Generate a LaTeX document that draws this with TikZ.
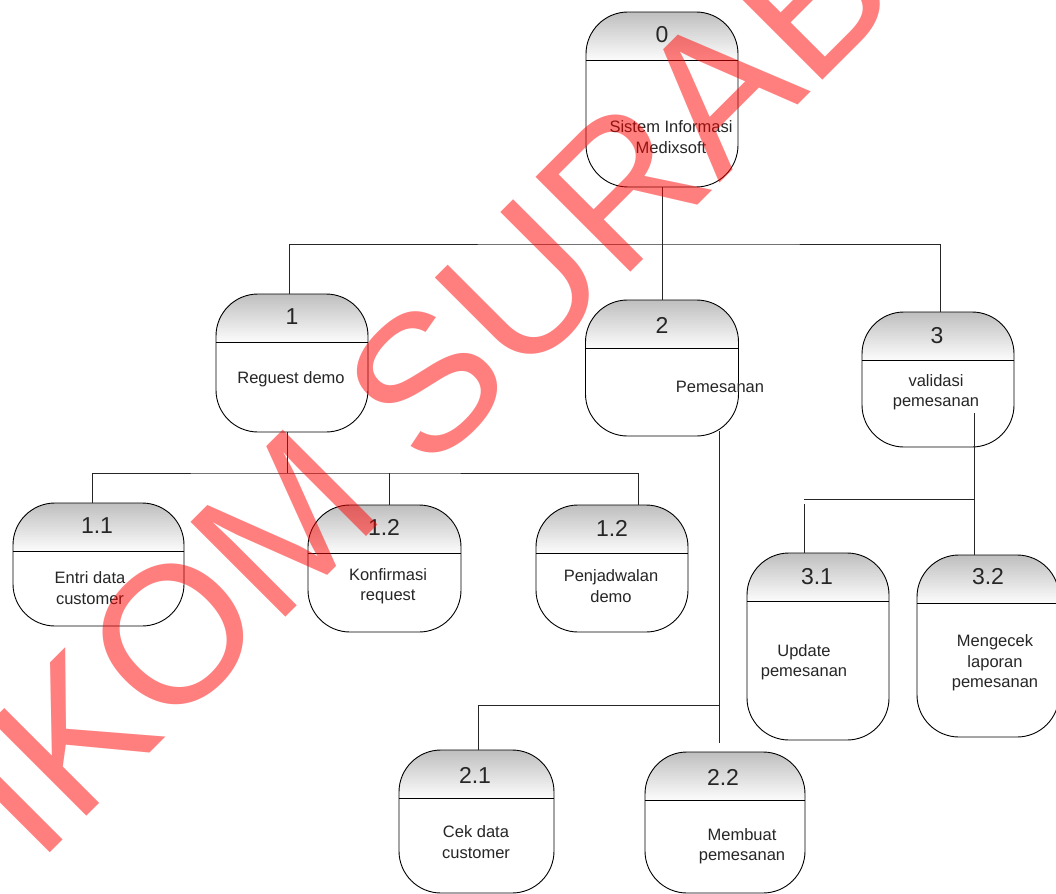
\documentclass[tikz,border=0pt]{standalone}
\usepackage{fontspec}
\setmainfont{Liberation Sans}

\begin{document}
\begin{tikzpicture}[x=1pt,y=-1pt,
    process/.style={shape=rectangle, draw=black, line width=0.9pt, rounded corners=42pt, inner sep=0pt, fill=white,
        path picture={
            \foreach \k in {0,...,23} {
                \pgfmathsetmacro\g{50-2*\k}
                \fill[sharp corners, gray!\g] ([yshift={-2*\k*1pt}]path picture bounding box.north west) rectangle ([yshift={-2*\k*1pt-2.4pt}]path picture bounding box.north east);
            }
            \draw[sharp corners, line width=0.9pt] ([yshift=-48pt]path picture bounding box.north west) -- ([yshift=-48pt]path picture bounding box.north east);
        }},
    numtext/.style={font=\fontsize{23}{26}\selectfont, text=black!85},
    desctext/.style={align=center, font=\fontsize{16.5}{20.5}\selectfont, text=black!85},
    tree/.style={draw=black!85, line width=0.9pt}]
    \useasboundingbox (0,0) rectangle (1056,893);

    % Draw process boxes
    \foreach \n/\cx/\cy/\w/\h in {0/662/99.5/152/175, 1/292/363/152/138, 2/662/368/153/136, 3/938/379.5/152/135,
        11/98.5/564.5/171/123, 12a/384.5/568.5/153/127, 12b/612/568.5/152/127,
        21/476.5/821.5/155/143, 22/725/822.5/160/141, 31/818/646.5/142/187, 32/988/646/142/182} {
        \node[process, minimum width=\w pt, minimum height=\h pt] (proc\n) at (\cx,\cy) {};
    }

    % Numbers in the headers
    \foreach \n/\x/\y/\txt in {0/662/35/0, 1/292/317/1, 2/662/325/2, 3/937/336/3, 11/97/526/1.1, 12a/384/527/1.2,
        12b/612/528/1.2, 21/475/775/2.1, 22/723/777/2.2, 31/817/577/3.1, 32/988/577/3.2} {
        \node[numtext] (num\n) at (\x,\y) {\txt};
    }

    % Process names
    \node[desctext] (name0) at (671,137) {Sistem Informasi\\Medixsoft};
    \node[desctext] (name1) at (291,379) {Reguest demo};
    \node[desctext] (name2) at (720,387) {Pemesanan};
    \node[desctext] (name3) at (936,392) {validasi\\pemesanan};
    \node[desctext] (name11) at (90,588) {Entri data\\customer};
    \node[desctext] (name12a) at (388,586) {Konfirmasi\\request};
    \node[desctext] (name12b) at (611,586) {Penjadwalan\\demo};
    \node[desctext] (name21) at (476,842) {Cek data\\customer};
    \node[desctext] (name22) at (742,846) {Membuat\\pemesanan};
    \node[desctext] (name31) at (804,662) {Update\\pemesanan};
    \node[desctext] (name32) at (995,663) {Mengecek\\laporan\\pemesanan};

    % Junctions of the tree
    \coordinate (j0) at (662,244);
    \coordinate (j1) at (287,473);
    \coordinate (j2) at (719,705);
    \coordinate (j3) at (974,499);
    \coordinate (s3) at (974,413);

    % Draw edges
    \draw[tree] (proc0.south) -- (proc2.north);
    \draw[tree] ([xshift=-3pt]proc1.north) |- (j0) -| ([xshift=2pt]proc3.north);
    \draw[tree] ([xshift=-5pt]proc1.south) -- (j1);
    \draw[tree] ([xshift=-6.5pt]proc11.north) |- (j1) -| ([xshift=26pt]proc12b.north);
    \draw[tree] ([xshift=4.5pt]proc12a.north) -- ([xshift=4.5pt]proc12a.north |- j1);
    \draw[tree] ([xshift=57pt,yshift=5pt]proc2.south) -- ([xshift=-6pt,yshift=9pt]proc22.north);
    \draw[tree] ([xshift=1.5pt]proc21.north) |- (j2);
    \draw[tree] (s3) -- ([xshift=-14pt]proc32.north);
    \draw[tree] (j3) -- ++(-170,0);
    \draw[tree] ([xshift=-14pt]proc31.north) -- ++(0,-49);

    % Watermark
    \begin{scope}
        \clip (0,0) rectangle (1056,893);
        \node[rotate=45, anchor=base west, inner sep=0pt, text=red, opacity=0.5, font=\fontsize{195}{195}\selectfont] (mark) at (-139,1042) {STIKOM SURABAYA};
    \end{scope}
\end{tikzpicture}
\end{document}
